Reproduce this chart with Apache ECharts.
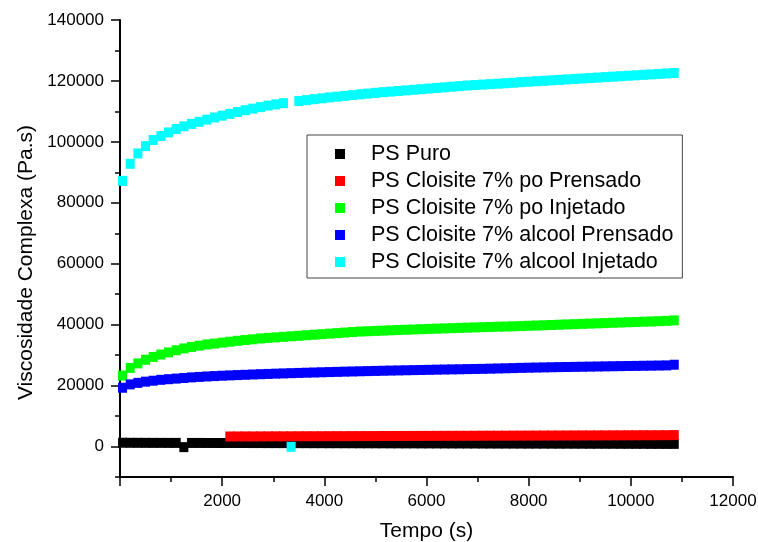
<!DOCTYPE html>
<html>
<head>
<meta charset="utf-8">
<script src="https://cdn.jsdelivr.net/npm/echarts@6/dist/echarts.min.js"></script>
<style>html,body{margin:0;padding:0;background:#fff}#c{width:758px;height:542px}</style>
</head>
<body>
<div id="c"></div>
<script>
const seriesNames = ['PS Puro', 'PS Cloisite 7% po Prensado', 'PS Cloisite 7% po Injetado', 'PS Cloisite 7% alcool Prensado', 'PS Cloisite 7% alcool Injetado'];
const seriesColors = ['#000000', '#ff0000', '#00ff00', '#0000ff', '#00ffff'];

const tempo = [50,200,350,500,650,800,950,1100,1250,1400,1550,1700,1850,2000,2150,2300,2450,2600,2750,2900,3050,3200,3350,3500,3650,3800,3950,4100,4250,4400,4550,4700,4850,5000,5150,5300,5450,5600,5750,5900,6050,6200,6350,6500,6650,6800,6950,7100,7250,7400,7550,7700,7850,8000,8150,8300,8450,8600,8750,8900,9050,9200,9350,9500,9650,9800,9950,10100,10250,10400,10550,10700,10850];

const psPuro = [1250,1230,1220,1210,1200,1200,1190,1190,-200,1180,1180,1170,1170,1160,1160,1150,1150,1140,1140,1130,1130,1120,1120,1110,1110,1100,1100,1090,1090,1080,1080,1070,1070,1060,1060,1050,1050,1040,1040,1030,1030,1020,1020,1010,1010,1000,1000,990,990,980,980,970,970,960,960,950,950,940,940,930,930,920,920,910,910,900,900,890,890,880,880,870,870];

const poPrensado = [null,null,null,null,null,null,null,null,null,null,null,null,null,null,
3300,3310,3320,3320,3330,3340,3350,3350,3360,3370,
3380,3380,3390,3400,3410,3410,3420,3430,3440,3440,
3450,3460,3470,3470,3480,3490,3500,3500,3510,3520,
3530,3530,3540,3550,3560,3560,3570,3580,3590,3590,
3600,3610,3620,3620,3630,3640,3650,3650,3660,3670,
3680,3680,3690,3700,3710,3710,3720,3730,3750];

const poInjetado = [23300,25800,27300,28500,29400,30200,30900,31600,32200,32700,33100,33500,33800,34100,34400,34700,34950,35200,35450,35650,35830,36000,36180,36350,36530,36700,36880,37050,37230,37400,37580,37750,37850,37950,38050,38150,38240,38330,38420,38510,38600,38690,38780,38860,38940,39020,39100,39180,39250,39320,39390,39460,39540,39630,39720,39810,39900,39990,40080,40170,40260,40350,40430,40520,40610,40700,40790,40880,40970,41060,41150,41250,41400];

const alcoolPrensado = [19300,20400,20900,21300,21600,21900,22100,22300,22500,22700,22850,23000,23120,23240,23350,23450,23550,23650,23740,23830,23920,24000,24080,24160,24230,24300,24370,24440,24510,24580,24640,24700,24760,24820,24880,24930,24980,25030,25080,25130,25180,25230,25280,25320,25360,25410,25460,25500,25560,25620,25680,25750,25820,25870,25920,25970,26020,26070,26110,26150,26190,26230,26270,26310,26350,26390,26430,26470,26510,26550,26590,26630,26850];

const alcoolInjetado = [87200,92800,96200,98600,100600,101900,103100,104200,105100,105900,106600,107300,108000,108600,109200,109800,110400,110900,111400,111900,112300,112700,-100,113400,113700,114000,114300,114600,114850,115100,115350,115600,115850,116100,116300,116500,116700,116900,117100,117300,117500,117700,117900,118100,118300,118500,118650,118800,118950,119100,119250,119400,119600,119750,119900,120050,120200,120350,120500,120650,120800,120950,121100,121250,121400,121550,121700,121850,122000,122150,122300,122450,122600];

const yLabelTicks = [0,20000,40000,60000,80000,100000,120000,140000];
const yMinorTicks = [-10000,10000,30000,50000,70000,90000,110000,130000];
const xLabelTicks = [2000,4000,6000,8000,10000,12000];
const xMajorTicks = [0,2000,4000,6000,8000,10000,12000];
const xMinorTicks = [1000,3000,5000,7000,9000,11000];

const allValues = [psPuro, poPrensado, poInjetado, alcoolPrensado, alcoolInjetado];
const FONT = "'Liberation Sans', Arial, sans-serif";

const chart = echarts.init(document.getElementById('c'), null, {renderer: 'canvas'});

const series = allValues.map((vals, i) => ({
  name: seriesNames[i],
  type: 'scatter',
  symbol: 'rect',
  symbolSize: [9, 10],
  itemStyle: {color: seriesColors[i], opacity: 1},
  xAxisIndex: 0,
  yAxisIndex: 0,
  data: tempo.map((t, k) => vals[k] == null ? null : [t, vals[k]]).filter(d => d),
  z: 2 + i,
  animation: false
}));

const plain = v => String(v);

const baseX = {
  type: 'value', min: 0, max: 12000, interval: 1000, position: 'bottom',
  splitLine: {show: false}
};
const baseY = {
  type: 'value', min: -10000, max: 140000, interval: 10000, position: 'left',
  splitLine: {show: false}
};

chart.setOption({
  animation: false,
  backgroundColor: '#ffffff',
  textStyle: {fontFamily: FONT},
  grid: {left: 120, right: 25, top: 20, bottom: 65, containLabel: false, outerBoundsMode: 'none'},
  xAxis: [
    Object.assign({}, baseX, {
      name: 'Tempo (s)', nameLocation: 'middle', nameGap: 44,
      nameTextStyle: {fontSize: 21, color: '#000', fontFamily: FONT},
      axisLine: {show: true, onZero: false, lineStyle: {color: '#000', width: 2}},
      axisTick: {show: true, inside: false, length: 9, customValues: xMajorTicks, lineStyle: {color: '#000', width: 1.5}},
      axisLabel: {show: true, customValues: xLabelTicks, formatter: plain, margin: 16, fontSize: 17, color: '#000', fontFamily: FONT}
    }),
    Object.assign({}, baseX, {
      axisLine: {show: false, onZero: false},
      axisTick: {show: true, inside: false, length: 5, customValues: xMinorTicks, lineStyle: {color: '#000', width: 1.5}},
      axisLabel: {show: false}
    })
  ],
  yAxis: [
    Object.assign({}, baseY, {
      name: 'Viscosidade Complexa (Pa.s)', nameLocation: 'middle', nameGap: 80, nameRotate: 90,
      nameTextStyle: {fontSize: 21, color: '#000', fontFamily: FONT, padding: [0, 28, 0, 0]},
      axisLine: {show: true, onZero: false, lineStyle: {color: '#000', width: 2}},
      axisTick: {show: true, inside: false, length: 9, customValues: yLabelTicks, lineStyle: {color: '#000', width: 1.5}},
      axisLabel: {show: true, customValues: yLabelTicks, formatter: plain, margin: 16, fontSize: 17, color: '#000', fontFamily: FONT}
    }),
    Object.assign({}, baseY, {
      axisLine: {show: false, onZero: false},
      axisTick: {show: true, inside: false, length: 5, customValues: yMinorTicks, lineStyle: {color: '#000', width: 1.5}},
      axisLabel: {show: false}
    })
  ],
  legend: {
    show: true,
    orient: 'vertical',
    left: 307,
    top: 135,
    data: seriesNames.map((n, i) => ({name: n, icon: 'rect', itemStyle: {color: seriesColors[i]}})),
    itemWidth: 10,
    itemHeight: 10,
    itemGap: 5,
    padding: [8, 9, 5, 28],
    borderColor: '#444',
    borderWidth: 1,
    backgroundColor: '#fff',
    selectedMode: false,
    textStyle: {fontSize: 21.5, lineHeight: 21, color: '#000', fontFamily: FONT, padding: [0, 0, 0, 21]}
  },
  series: series
});
</script>
</body>
</html>
